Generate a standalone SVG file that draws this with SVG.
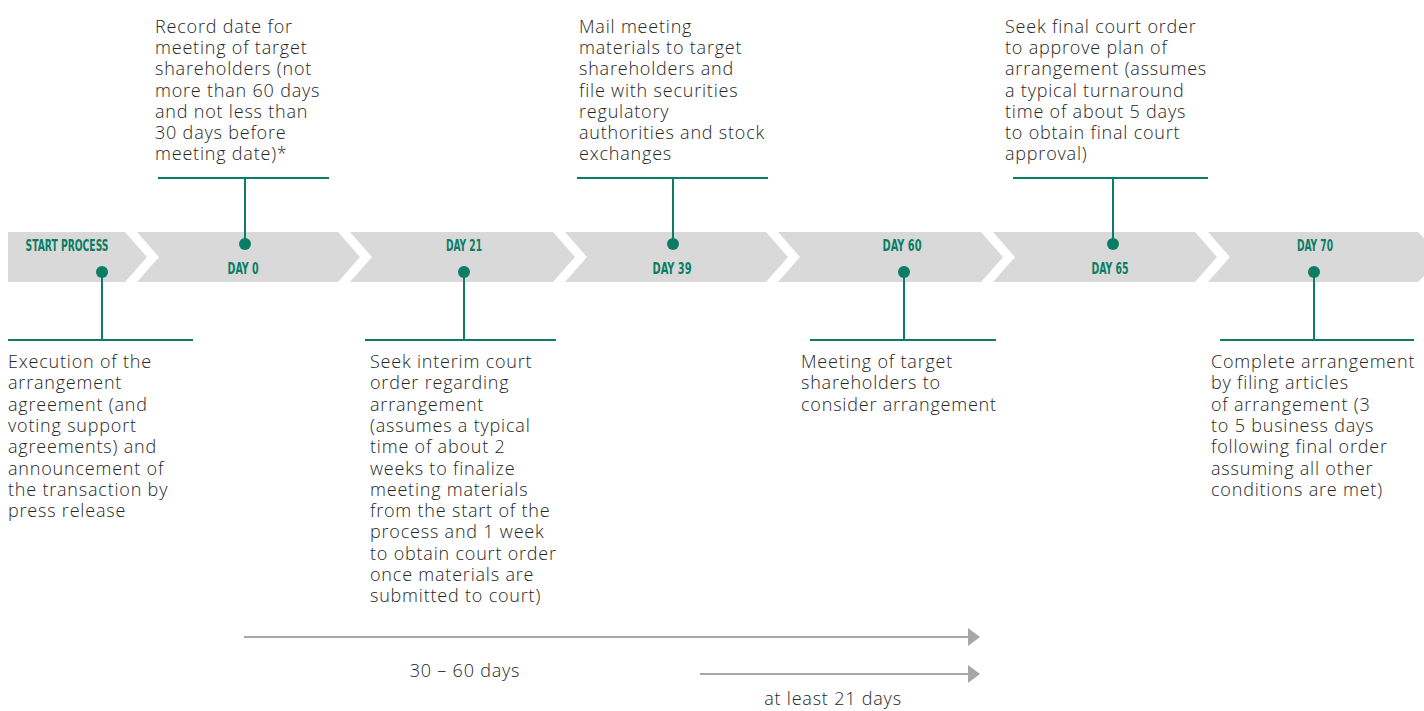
<svg xmlns="http://www.w3.org/2000/svg" width="1424" height="711" viewBox="0 0 1424 711">
<defs>
<style>
.seg{fill:#d9d9d9}
.lbl{font-family:"DejaVu Sans Condensed","DejaVu Sans",sans-serif;font-weight:bold;font-size:16.5px;fill:#0a7d64;text-anchor:middle}
.g{stroke:#0a7d64;stroke-width:2;fill:none}
.dot{fill:#0a7d64}
.t{font-family:"Open Sans","Noto Sans",sans-serif;font-weight:300;font-size:18px;letter-spacing:0.8px;fill:#262626}
.ar{stroke:#a6a6a6;stroke-width:2;fill:none}
.ah{fill:#a6a6a6}
</style>
</defs>
<rect width="1424" height="711" fill="#fff"/>
<g id="band">
<g id="seg-start"><polygon class="seg" points="8,232 125,232 147,257 125,282 8,282"/><text class="lbl" x="67" y="250.5" textLength="83" lengthAdjust="spacingAndGlyphs">START PROCESS</text></g>
<g id="seg-day0"><polygon class="seg" points="137,232 338,232 360,257 338,282 137,282 159,257"/><text class="lbl" x="243" y="273.5" textLength="31" lengthAdjust="spacingAndGlyphs">DAY 0</text></g>
<g id="seg-day21"><polygon class="seg" points="350,232 553,232 575,257 553,282 350,282 372,257"/><text class="lbl" x="464" y="250.5" textLength="36" lengthAdjust="spacingAndGlyphs">DAY 21</text></g>
<g id="seg-day39"><polygon class="seg" points="565,232 766,232 788,257 766,282 565,282 587,257"/><text class="lbl" x="672" y="273.5" textLength="39" lengthAdjust="spacingAndGlyphs">DAY 39</text></g>
<g id="seg-day60"><polygon class="seg" points="778,232 981,232 1003,257 981,282 778,282 800,257"/><text class="lbl" x="902" y="250.5" textLength="39" lengthAdjust="spacingAndGlyphs">DAY 60</text></g>
<g id="seg-day65"><polygon class="seg" points="993,232 1195,232 1217,257 1195,282 993,282 1015,257"/><text class="lbl" x="1110" y="273.5" textLength="37" lengthAdjust="spacingAndGlyphs">DAY 65</text></g>
<g id="seg-day70"><polygon class="seg" points="1208,232 1418,232 1443,257 1418,282 1208,282 1230,257"/><text class="lbl" x="1315" y="250.5" textLength="36" lengthAdjust="spacingAndGlyphs">DAY 70</text></g>
</g>
<g id="connectors">
<line class="ar" x1="244" y1="637" x2="969" y2="637"/><polygon class="ah" points="968,628 980,637 968,646"/>
<line class="ar" x1="700" y1="674" x2="969" y2="674"/><polygon class="ah" points="968,665 980,674 968,683"/>
</g>
<g id="note-execution">
<path class="g" d="M102 272V340M8 340H193"/><circle class="dot" cx="102" cy="272" r="6"/>
<text class="t" x="8" y="368"><tspan x="8">Execution of the</tspan><tspan x="8" dy="21.3">arrangement</tspan><tspan x="8" dy="21.3">agreement (and</tspan><tspan x="8" dy="21.3">voting support</tspan><tspan x="8" dy="21.3">agreements) and</tspan><tspan x="8" dy="21.3">announcement of</tspan><tspan x="8" dy="21.3">the transaction by</tspan><tspan x="8" dy="21.3">press release</tspan></text>
</g>
<g id="note-record">
<path class="g" d="M245 244V178M158 178H329"/><circle class="dot" cx="245" cy="244" r="6"/>
<text class="t" x="155" y="33"><tspan x="155">Record date for</tspan><tspan x="155" dy="21.2">meeting of target</tspan><tspan x="155" dy="21.2">shareholders (not</tspan><tspan x="155" dy="21.2">more than 60 days</tspan><tspan x="155" dy="21.2">and not less than</tspan><tspan x="155" dy="21.2">30 days before</tspan><tspan x="155" dy="21.2">meeting date)*</tspan></text>
</g>
<g id="note-interim">
<path class="g" d="M464 272V340M365 340H556"/><circle class="dot" cx="464" cy="272" r="6"/>
<text class="t" x="370" y="368"><tspan x="370">Seek interim court</tspan><tspan x="370" dy="21.3">order regarding</tspan><tspan x="370" dy="21.3">arrangement</tspan><tspan x="370" dy="21.3">(assumes a typical</tspan><tspan x="370" dy="21.3">time of about 2</tspan><tspan x="370" dy="21.3">weeks to finalize</tspan><tspan x="370" dy="21.3">meeting materials</tspan><tspan x="370" dy="21.3">from the start of the</tspan><tspan x="370" dy="21.3">process and 1 week</tspan><tspan x="370" dy="21.3">to obtain court order</tspan><tspan x="370" dy="21.3">once materials are</tspan><tspan x="370" dy="21.3">submitted to court)</tspan></text>
</g>
<g id="note-mail">
<path class="g" d="M673 244V178M577 178H768"/><circle class="dot" cx="673" cy="244" r="6"/>
<text class="t" x="579" y="33"><tspan x="579">Mail meeting</tspan><tspan x="579" dy="21.2">materials to target</tspan><tspan x="579" dy="21.2">shareholders and</tspan><tspan x="579" dy="21.2">file with securities</tspan><tspan x="579" dy="21.2">regulatory</tspan><tspan x="579" dy="21.2">authorities and stock</tspan><tspan x="579" dy="21.2">exchanges</tspan></text>
</g>
<g id="note-meeting">
<path class="g" d="M904 272V340M810 340H996"/><circle class="dot" cx="904" cy="272" r="6"/>
<text class="t" x="801" y="368"><tspan x="801">Meeting of target</tspan><tspan x="801" dy="21.3">shareholders to</tspan><tspan x="801" dy="21.3">consider arrangement</tspan></text>
</g>
<g id="note-final">
<path class="g" d="M1113 244V178M1013 178H1208"/><circle class="dot" cx="1113" cy="244" r="6"/>
<text class="t" x="1005" y="33"><tspan x="1005">Seek final court order</tspan><tspan x="1005" dy="21.2">to approve plan of</tspan><tspan x="1005" dy="21.2">arrangement (assumes</tspan><tspan x="1005" dy="21.2">a typical turnaround</tspan><tspan x="1005" dy="21.2">time of about 5 days</tspan><tspan x="1005" dy="21.2">to obtain final court</tspan><tspan x="1005" dy="21.2">approval)</tspan></text>
</g>
<g id="note-complete">
<path class="g" d="M1314 272V340M1220 340H1414"/><circle class="dot" cx="1314" cy="272" r="6"/>
<text class="t" x="1211" y="368"><tspan x="1211">Complete arrangement</tspan><tspan x="1211" dy="21.3">by filing articles</tspan><tspan x="1211" dy="21.3">of arrangement (3</tspan><tspan x="1211" dy="21.3">to 5 business days</tspan><tspan x="1211" dy="21.3">following final order</tspan><tspan x="1211" dy="21.3">assuming all other</tspan><tspan x="1211" dy="21.3">conditions are met)</tspan></text>
</g>
<g id="label-30-60"><text class="t" x="465" y="677" text-anchor="middle">30 – 60 days</text></g>
<g id="label-21"><text class="t" x="833" y="705" text-anchor="middle">at least 21 days</text></g>
</svg>
